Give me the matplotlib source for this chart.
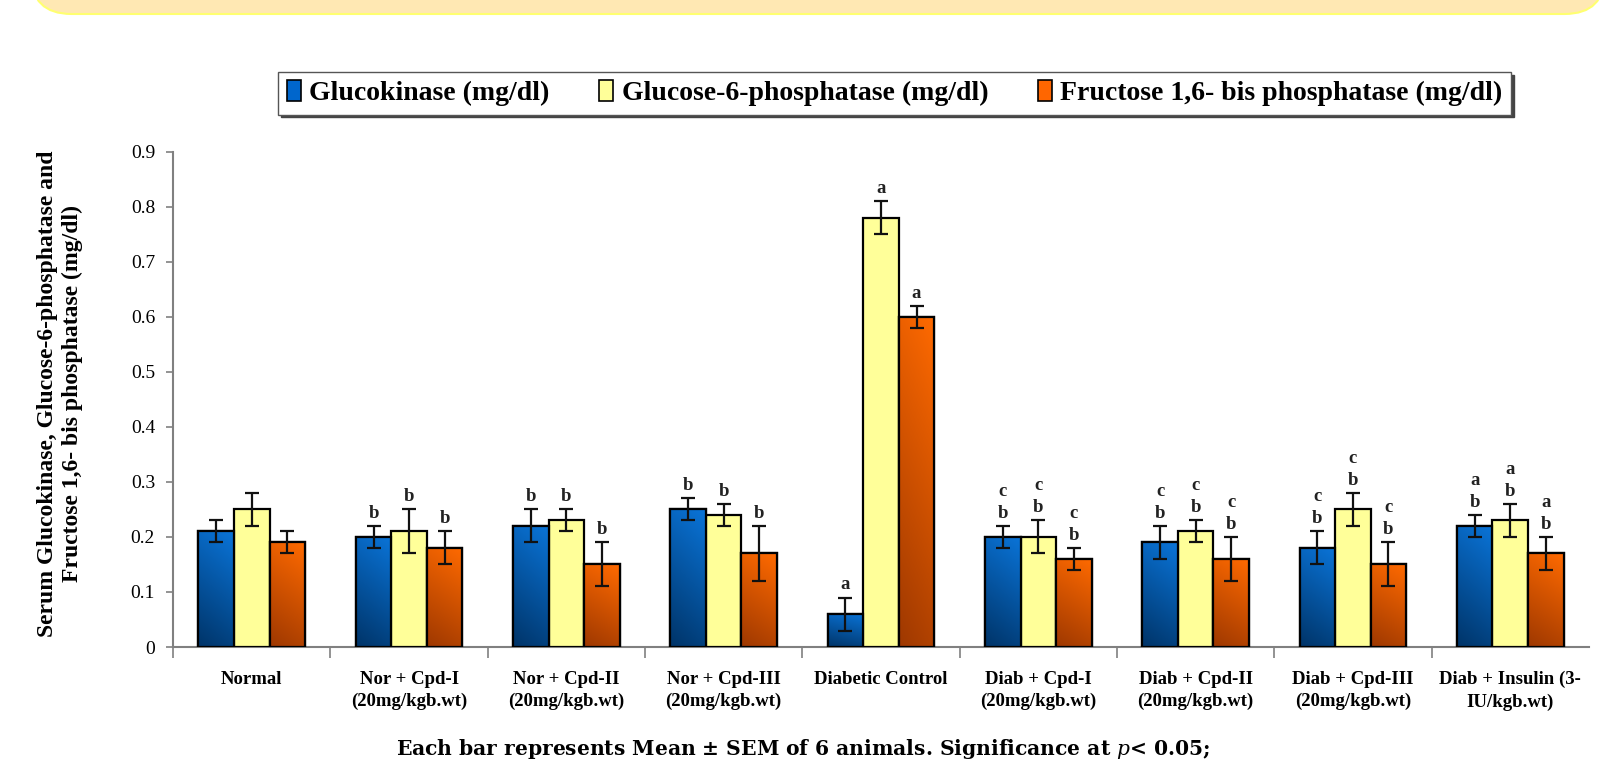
import numpy as np
import matplotlib
matplotlib.use("Agg")
import matplotlib.pyplot as plt
from matplotlib.colors import LinearSegmentedColormap
from matplotlib.patches import FancyBboxPatch, Rectangle

plt.rcParams['mathtext.fontset'] = 'dejavuserif'

categories = ["Normal", "Nor + Cpd-I\n(20mg/kgb.wt)", "Nor + Cpd-II\n(20mg/kgb.wt)",
              "Nor + Cpd-III\n(20mg/kgb.wt)", "Diabetic Control", "Diab + Cpd-I\n(20mg/kgb.wt)",
              "Diab + Cpd-II\n(20mg/kgb.wt)", "Diab + Cpd-III\n(20mg/kgb.wt)",
              "Diab + Insulin (3-\nIU/kgb.wt)"]
series_names = ["Glucokinase (mg/dl)", "Glucose-6-phosphatase (mg/dl)",
                "Fructose 1,6- bis phosphatase (mg/dl)"]
glucokinase = [0.21, 0.20, 0.22, 0.25, 0.06, 0.20, 0.19, 0.18, 0.22]
glucokinase_err = [0.02, 0.02, 0.03, 0.02, 0.03, 0.02, 0.03, 0.03, 0.02]
g6p = [0.25, 0.21, 0.23, 0.24, 0.78, 0.20, 0.21, 0.25, 0.23]
g6p_err = [0.03, 0.04, 0.02, 0.02, 0.03, 0.03, 0.02, 0.03, 0.03]
fbp = [0.19, 0.18, 0.15, 0.17, 0.60, 0.16, 0.16, 0.15, 0.17]
fbp_err = [0.02, 0.03, 0.04, 0.05, 0.02, 0.02, 0.04, 0.04, 0.03]
letters = ["", "b", "b", "b", "a", "c\nb", "c\nb", "c\nb", "a\nb"]
yticks = [0, 0.1, 0.2, 0.3, 0.4, 0.5, 0.6, 0.7, 0.8, 0.9]
yticklabels = ["0", "0.1", "0.2", "0.3", "0.4", "0.5", "0.6", "0.7", "0.8", "0.9"]

values = [glucokinase, g6p, fbp]
errors = [glucokinase_err, g6p_err, fbp_err]
base_colors = ["#0066CC", "#FFFF99", "#FF6600"]
grad_maps = [
    LinearSegmentedColormap.from_list("b", ["#003468", "#0A74D8"]),
    None,
    LinearSegmentedColormap.from_list("o", ["#9E3800", "#FF6A00"]),
]

fig = plt.figure(figsize=(16.18, 7.64), dpi=100)

# top banner
banner = FancyBboxPatch((31 / 1618, 1 - 14 / 764), (1605 - 31) / 1618, 0.2,
                        boxstyle="round,pad=0,rounding_size=0.025",
                        transform=fig.transFigure, facecolor="#FFE8B3",
                        edgecolor="#FFFF70", linewidth=1.5, mutation_aspect=1618 / 764,
                        zorder=0)
fig.patches.append(banner)

ax = fig.add_axes([0.107, 0.1531, 0.875, 0.6483])
x = np.arange(len(categories))
w = 0.226
offsets = [-w, 0, w]

yy, xx = np.mgrid[0:1:100j, 0:1:30j]
grad = 0.8 * yy + 0.2 * xx

for s in range(3):
    bars = ax.bar(x + offsets[s], values[s], w, color=base_colors[s],
                  edgecolor="black", linewidth=1.6, zorder=3)
    if grad_maps[s] is not None:
        for b in bars:
            bx, by = b.get_x(), b.get_y()
            bw, bh = b.get_width(), b.get_height()
            im = ax.imshow(grad, cmap=grad_maps[s], origin="lower",
                           extent=[bx, bx + bw, by, by + bh], aspect="auto",
                           zorder=3.1, interpolation="bilinear")
            im.set_clip_path(b)
        ax.bar(x + offsets[s], values[s], w, color="none",
               edgecolor="black", linewidth=1.6, zorder=3.2)
    ax.errorbar(x + offsets[s], values[s], yerr=errors[s], fmt="none",
                ecolor="#111111", elinewidth=1.6, capsize=5, capthick=1.6, zorder=4)
    for i in range(len(categories)):
        if letters[i]:
            ax.annotate(letters[i], (x[i] + offsets[s], values[s][i] + errors[s][i]),
                        xytext=(0, 3), textcoords="offset points", ha="center",
                        va="bottom", fontsize=13.5, fontweight="bold",
                        family="Liberation Serif", linespacing=1.4, zorder=5,
                        color="#222222")

ax.set_xlim(-0.5, len(categories) - 0.5)
ax.set_ylim(0, 0.9)
ax.set_yticks(yticks)
ax.set_yticklabels(yticklabels, family="Liberation Serif", fontsize=14)
ax.set_xticks(x)
ax.set_xticklabels(categories, family="Liberation Serif", fontsize=13.5,
                   fontweight="bold", linespacing=1.4)
ax.set_xticks(np.arange(-0.5, len(categories) - 0.5, 1.0), minor=True)
ax.tick_params(axis="x", which="major", length=0, pad=17)
ax.tick_params(axis="x", which="minor", length=8, width=1.2, color="#808080", direction="out")
ax.tick_params(axis="y", length=5, width=1.2, color="#808080", direction="out", pad=8)
for sp in ["top", "right"]:
    ax.spines[sp].set_visible(False)
for sp in ["left", "bottom"]:
    ax.spines[sp].set_color("#808080")
    ax.spines[sp].set_linewidth(1.5)

fig.text(60 / 1618, 1 - 394 / 764,
         "Serum Glucokinase, Glucose-6-phosphatase and\nFructose 1,6- bis phosphatase (mg/dl)",
         rotation=90, ha="center", va="center", multialignment="center",
         family="Liberation Serif", fontsize=17, fontweight="bold", linespacing=1.2)

handles = [Rectangle((0, 0), 1, 1, facecolor=c, edgecolor="black", linewidth=1.2)
           for c in base_colors]
leg = fig.legend(handles, series_names, loc="center", bbox_to_anchor=(0.553, 0.878),
                 bbox_transform=fig.transFigure, ncol=3, frameon=True, fancybox=False,
                 shadow={"color": "#444444", "alpha": 1.0},
                 prop={"family": "Liberation Serif", "weight": "bold", "size": 20},
                 handlelength=0.5, handleheight=0.8, handletextpad=0.3,
                 columnspacing=1.8, borderpad=0.3, borderaxespad=0)
leg.get_frame().set_edgecolor("#555555")
leg.get_frame().set_linewidth(1.0)

fig.text(803 / 1618, 1 - 749 / 764,
         r"Each bar represents Mean ± SEM of 6 animals. Significance at $\mathit{p}$< 0.05;",
         ha="center", va="center", family="DejaVu Serif", fontweight="bold", fontsize=14.6)

fig.savefig("out.png", dpi=100)
